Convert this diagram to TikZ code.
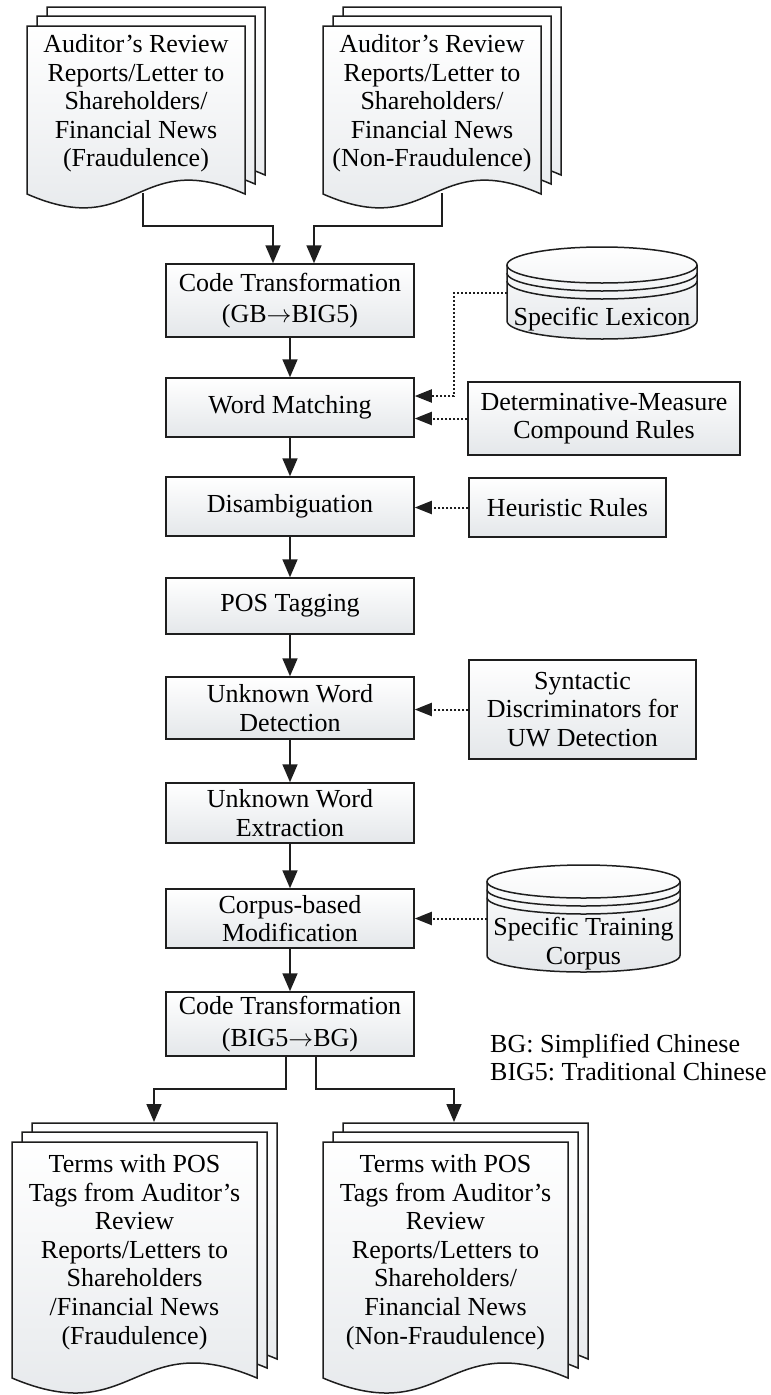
\documentclass[tikz,border=0pt]{standalone}
\usepackage{fontspec}
\setmainfont{Liberation Serif}
\usepackage{tikz}
\usetikzlibrary{arrows.meta,positioning,calc}
\usepackage{xcolor}
\definecolor{ink}{HTML}{1E1E1E}
\definecolor{paper}{HTML}{E4E7EA}
\newcommand{\figfont}{\fontsize{26}{28.6}\selectfont}
\newcommand{\toarrow}{$\rightarrow$}
\frenchspacing
\tikzset{
  pbox/.style={rectangle,draw=ink,line width=1.5pt,top color=white,bottom color=paper,
    minimum width=248pt,inner sep=2pt,align=center,font=\figfont},
  dtext/.style={align=center,inner sep=0pt,font=\figfont},
  docpage/.style={draw=ink,line width=1.5pt,top color=white,bottom color=paper},
  drum/.style={draw=ink,line width=1.5pt},
  fedge/.style={-{Triangle[length=18pt,width=15pt]},line width=1.7pt,color=ink},
  dedge/.style={-{Triangle[length=17pt,width=13pt]},line width=2pt,color=ink,
    dash pattern=on 2.5pt off 1.5pt},
}
% one sheet of a document stack: left, top, width, height, wave depth
\newcommand{\docsheet}[5]{%
  \pgfmathsetmacro{\shR}{#1+#3}\pgfmathsetmacro{\shM}{#1+#3/2}\pgfmathsetmacro{\shB}{#2+#4}%
  \draw[docpage] (#1,#2) -- (\shR,#2) -- (\shR,\shB)
    .. controls (\shM,\shB-#5) and (\shM,\shB+#5) .. (#1,\shB) -- cycle;}
\newcommand{\docstack}[5]{%
  \docsheet{#1+20}{#2-19}{#3}{#4}{#5}\docsheet{#1+10}{#2-10}{#3}{#4}{#5}\docsheet{#1}{#2}{#3}{#4}{#5}}
% database drum: centre x, top centre y, rx, ry, bottom centre y
\newcommand{\dbdrum}[5]{%
  \path[top color=white,bottom color=paper] (#1-#3,#2) -- (#1-#3,#5)
    arc[start angle=180,end angle=360,x radius=#3pt,y radius=#4pt] -- (#1+#3,#2)
    arc[start angle=0,end angle=180,x radius=#3pt,y radius=#4pt] -- cycle;
  \draw[drum] (#1-#3,#2) -- (#1-#3,#5)
    arc[start angle=180,end angle=360,x radius=#3pt,y radius=#4pt] -- (#1+#3,#2);
  \draw[drum] (#1,#2) ellipse[x radius=#3pt,y radius=#4pt];
  \draw[drum] (#1-#3,#2+8) arc[start angle=180,end angle=360,x radius=#3pt,y radius=#4pt];
  \draw[drum] (#1-#3,#2+16) arc[start angle=180,end angle=360,x radius=#3pt,y radius=#4pt];}
\begin{document}
\begin{tikzpicture}[x=1pt,y=-1pt]
  \useasboundingbox (0,0) rectangle (771,1395);
  % source documents
  \docstack{27}{26}{218}{168}{48} \docstack{323}{26}{218}{168}{48}
  \node[dtext] (srcF) at (136,103.5){Auditor’s Review\\Reports/Letter to\\Shareholders/\\Financial News\\(Fraudulence)};
  \node[dtext] (srcN) at (432,103.5){Auditor’s Review\\Reports/Letter to\\Shareholders/\\Financial News\\(Non-Fraudulence)};
  \coordinate (srcFout) at (143,193); \coordinate (srcNout) at (442,193);
  % processing steps
  \node[pbox,minimum height=73pt] (code1) at (290,300.5){Code Transformation\\[3pt](GB\toarrow BIG5)};
  \node[pbox,minimum height=59pt] (wm) at (290,407.5){Word Matching};
  \node[pbox,minimum height=59pt] (da) at (290,506.5){Disambiguation};
  \node[pbox,minimum height=56pt] (pos) at (290,606){POS Tagging};
  \node[pbox,minimum height=62pt] (uwd) at (290,708){Unknown Word\\Detection};
  \node[pbox,minimum height=60pt] (uwe) at (290,813){Unknown Word\\Extraction};
  \node[pbox,minimum height=59pt] (cbm) at (290,918.5){Corpus-based\\Modification};
  \node[pbox,minimum height=64pt] (code2) at (290,1024){Code Transformation\\[3pt](BIG5\toarrow BG)};
  % resources
  \dbdrum{602}{265}{95}{18}{321} \dbdrum{583.5}{881.5}{96.5}{16.5}{955.5}
  \node[dtext] (lex) at (602,319){Specific Lexicon};
  \node[dtext] (corp) at (583.5,943.5){Specific Training\\Corpus};
  \coordinate (lexL) at (507,293); \coordinate (corL) at (487,918.5);
  \node[pbox,minimum width=272pt,minimum height=73pt] (dm) at (604,418.5){Determinative-Measure\\Compound Rules};
  \node[pbox,minimum width=197pt,minimum height=59pt] (hr) at (567.5,507.5){Heuristic Rules};
  \node[pbox,minimum width=227pt,minimum height=99pt] (syn) at (582.5,709.5){Syntactic\\Discriminators for\\UW Detection};
  % output documents
  \docstack{12}{1142}{245}{236}{52} \docstack{323}{1142}{245}{236}{52}
  \node[dtext] (outF) at (134.5,1252){Terms with POS\\Tags from Auditor’s\\Review\\Reports/Letters to\\Shareholders\\/Financial News\\(Fraudulence)};
  \node[dtext] (outN) at (445.5,1252){Terms with POS\\Tags from Auditor’s\\Review\\Reports/Letters to\\Shareholders/\\Financial News\\(Non-Fraudulence)};
  \coordinate (outFin) at (154,1122); \coordinate (outNin) at (454,1122);
  \node[dtext,anchor=west,align=left] (legend) at (490,1057.5){BG: Simplified Chinese\\BIG5: Traditional Chinese};
  % main flow
  \draw[fedge] (srcFout) -- ++(0,33) -| ([xshift=-17pt]code1.north);
  \draw[fedge] (srcNout) -- ++(0,33) -| ([xshift=24pt]code1.north);
  \draw[fedge] (code1)--(wm); \draw[fedge] (wm)--(da); \draw[fedge] (da)--(pos);
  \draw[fedge] (pos)--(uwd); \draw[fedge] (uwd)--(uwe); \draw[fedge] (uwe)--(cbm);
  \draw[fedge] (cbm)--(code2);
  \draw[fedge] ([xshift=-4pt]code2.south) -- ++(0,32) -| (outFin);
  \draw[fedge] ([xshift=26pt]code2.south) -- ++(0,32) -| (outNin);
  % resource links
  \draw[dedge] (lexL) -| ([xshift=39pt,yshift=11.5pt]wm.east) -- ([yshift=11.5pt]wm.east);
  \draw[dedge] (dm.west) -- (dm.west -| wm.east);
  \draw[dedge] (hr.west) -- (hr.west -| da.east);
  \draw[dedge] (syn.west) -- (syn.west -| uwd.east);
  \draw[dedge] (corL) -- (corL -| cbm.east);
\end{tikzpicture}
\end{document}
